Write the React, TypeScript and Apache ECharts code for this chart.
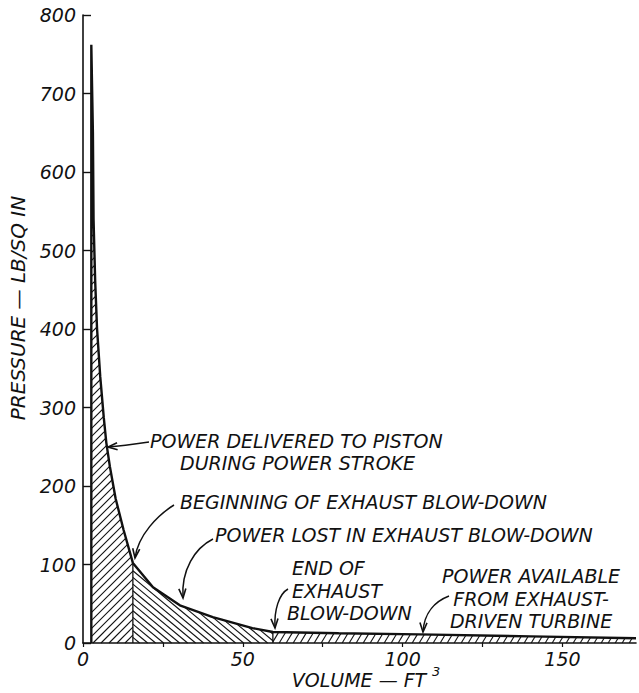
import React, { useEffect, useRef } from "react";
import * as echarts from "echarts";

// Indicator-diagram data: volume (ft^3) and pressure (lb/sq in)
const volume = [2.6, 2.6, 3.1, 3.3, 3.8, 4.4, 5.4, 6.5, 7.3, 8.4, 10.2, 12.7, 15.6, 21.9, 30.3, 40.6, 53.0, 59.4, 80, 105, 140, 173];
const pressure = [0, 762, 650, 540, 462, 400, 339, 287, 255, 225, 184, 144, 102, 71, 48, 33, 19, 14, 12.5, 11, 8.5, 6];

// Region boundaries (volume) : power stroke | exhaust blow-down | turbine
const regionBounds = [2.6, 15.6, 59.4, 173];

// Axis settings
const xMin = 0;
const xMax = 173;
const xInterval = 25;
const yMin = 0;
const yMax = 800;
const yInterval = 100;

// Texts
const yTitle = "PRESSURE — LB/SQ IN";
const xTitle = "VOLUME — FT";
const xTitleSup = "3";
const annotationTexts = [
  "POWER DELIVERED TO PISTON",
  "DURING POWER STROKE",
  "BEGINNING OF EXHAUST BLOW-DOWN",
  "POWER LOST IN EXHAUST BLOW-DOWN",
  "END OF",
  "EXHAUST",
  "BLOW-DOWN",
  "POWER AVAILABLE",
  "FROM EXHAUST-",
  "DRIVEN TURBINE",
];

// ---- layout / style (not data) ----
const INK = "#111";
const FONT = "DejaVu Sans";
const hatchK = [1, -1.2, 0.6]; // x + k*y = c families
const hatchStep = [8, 8, 7];

const annoLayout = [
  { x: 150, y: 441, align: "left" },
  { x: 180, y: 463, align: "left" },
  { x: 180, y: 502, align: "left" },
  { x: 215, y: 535, align: "left" },
  { x: 292, y: 568, align: "left" },
  { x: 292, y: 591, align: "left" },
  { x: 287, y: 613, align: "left" },
  { x: 531, y: 576, align: "center" },
  { x: 531, y: 599, align: "center" },
  { x: 531, y: 621, align: "center" },
];

const arrows = [
  { p0: [149, 442], c1: [135, 444], c2: [120, 446], p3: [108, 447] },
  { p0: [174, 505], c1: [158, 515], c2: [138, 535], p3: [135, 558] },
  { p0: [213, 539], c1: [195, 548], c2: [181, 570], p3: [183, 598] },
  { p0: [288, 589], c1: [279, 594], c2: [274, 610], p3: [275, 628] },
  { p0: [449, 596], c1: [436, 601], c2: [424, 612], p3: [423, 632] },
];

function arrowHead(tip: number[], from: number[], len = 10, ang = 0.36) {
  const a = Math.atan2(tip[1] - from[1], tip[0] - from[0]);
  const p1 = [tip[0] - len * Math.cos(a - ang), tip[1] - len * Math.sin(a - ang)];
  const p2 = [tip[0] - len * Math.cos(a + ang), tip[1] - len * Math.sin(a + ang)];
  return {
    type: "polyline",
    shape: { points: [p1, tip, p2] },
    style: { stroke: INK, lineWidth: 1.6, fill: null },
    silent: true,
  };
}

function hatchLines(pts: number[][], k: number, step: number) {
  const f = (p: number[]) => p[0] + k * p[1];
  let lo = Infinity;
  let hi = -Infinity;
  pts.forEach((p) => {
    lo = Math.min(lo, f(p));
    hi = Math.max(hi, f(p));
  });
  const out: any[] = [];
  for (let c = Math.ceil(lo / step) * step; c <= hi; c += step) {
    const hits: number[][] = [];
    for (let i = 0; i < pts.length; i++) {
      const a = pts[i];
      const b = pts[(i + 1) % pts.length];
      const fa = f(a) - c;
      const fb = f(b) - c;
      if ((fa < 0) !== (fb < 0)) {
        const t = fa / (fa - fb);
        hits.push([a[0] + t * (b[0] - a[0]), a[1] + t * (b[1] - a[1])]);
      }
    }
    hits.sort((u, v) => u[1] - v[1]);
    for (let j = 0; j + 1 < hits.length; j += 2) {
      out.push({
        type: "line",
        shape: { x1: hits[j][0], y1: hits[j][1], x2: hits[j + 1][0], y2: hits[j + 1][1] },
        style: { stroke: INK, lineWidth: 1.1 },
      });
    }
  }
  return out;
}

export default function App() {
  const ref = useRef<HTMLDivElement>(null);

  useEffect(() => {
    if (!ref.current) return;
    const chart = echarts.init(ref.current, null, { renderer: "svg" });

    const curve = volume.map((v, i) => [v, pressure[i]]);
    const regions = regionBounds.slice(0, -1).map((b, i) => [b, 0, i]);

    const textEls: any[] = annotationTexts.map((t, i) => ({
      type: "text",
      x: annoLayout[i].x,
      y: annoLayout[i].y,
      silent: true,
      style: {
        text: t,
        fill: INK,
        fontFamily: FONT,
        fontStyle: "italic",
        fontSize: 19,
        align: annoLayout[i].align,
        verticalAlign: "middle",
      },
    }));

    const arrowEls: any[] = [];
    arrows.forEach((a) => {
      arrowEls.push({
        type: "bezierCurve",
        silent: true,
        shape: {
          x1: a.p0[0], y1: a.p0[1],
          cpx1: a.c1[0], cpy1: a.c1[1],
          cpx2: a.c2[0], cpy2: a.c2[1],
          x2: a.p3[0], y2: a.p3[1],
        },
        style: { stroke: INK, lineWidth: 1.5, fill: null },
      });
      arrowEls.push(arrowHead(a.p3, a.c2));
    });

    const option: any = {
      animation: false,
      backgroundColor: "#fff",
      grid: { left: 83, right: 3, top: 15, bottom: 50, containLabel: false, outerBoundsMode: "none" },
      xAxis: {
        type: "value",
        min: xMin,
        max: xMax,
        interval: xInterval,
        axisLine: { show: true, lineStyle: { color: INK, width: 1.6 } },
        axisTick: { show: true, inside: false, length: 4, lineStyle: { color: INK, width: 1.2 } },
        splitLine: { show: false },
        axisLabel: {
          color: INK,
          fontFamily: FONT,
          fontStyle: "italic",
          fontSize: 19,
          margin: 6,
          showMaxLabel: false,
          formatter: (v: number) => (v % 50 === 0 ? String(v) : ""),
        },
      },
      yAxis: {
        type: "value",
        min: yMin,
        max: yMax,
        interval: yInterval,
        axisLine: { show: true, lineStyle: { color: INK, width: 1.6 } },
        axisTick: { show: true, inside: true, length: 8, lineStyle: { color: INK, width: 1.4 } },
        splitLine: { show: false },
        axisLabel: {
          color: INK,
          fontFamily: FONT,
          fontStyle: "italic",
          fontSize: 19,
          margin: 7,
        },
      },
      series: [
        {
          type: "custom",
          coordinateSystem: "cartesian2d",
          data: regions,
          encode: { x: 0, y: 1 },
          silent: true,
          z: 1,
          renderItem: (params: any, api: any) => {
            const r = params.dataIndex;
            const start = regionBounds[r];
            const end = regionBounds[r + 1];
            const pts: number[][] = [];
            for (let i = 0; i < volume.length; i++) {
              if (volume[i] >= start && volume[i] <= end && pressure[i] > 0) {
                pts.push(api.coord([volume[i], pressure[i]]));
              }
            }
            pts.push(api.coord([end, 0]));
            pts.push(api.coord([start, 0]));
            const children: any[] = hatchLines(pts, hatchK[r], hatchStep[r]);
            if (r > 0) {
              const idx = volume.findIndex((v, i) => v === start && pressure[i] > 0);
              const top = api.coord([start, pressure[idx]]);
              const bot = api.coord([start, 0]);
              children.push({
                type: "line",
                shape: { x1: top[0], y1: top[1], x2: bot[0], y2: bot[1] },
                style: { stroke: INK, lineWidth: 1.3 },
              });
            }
            return { type: "group", children };
          },
        },
        {
          type: "line",
          data: curve,
          showSymbol: false,
          symbol: "none",
          z: 3,
          silent: true,
          lineStyle: { color: INK, width: 2.4 },
        },
      ],
      graphic: {
        elements: [
          {
            type: "text",
            x: 18,
            y: 308,
            rotation: Math.PI / 2,
            silent: true,
            style: {
              text: yTitle,
              fill: INK,
              fontFamily: FONT,
              fontStyle: "italic",
              fontSize: 20,
              align: "center",
              verticalAlign: "middle",
            },
          },
          {
            type: "text",
            x: 359,
            y: 680,
            silent: true,
            style: {
              text: xTitle,
              fill: INK,
              fontFamily: FONT,
              fontStyle: "italic",
              fontSize: 19,
              align: "center",
              verticalAlign: "middle",
            },
          },
          {
            type: "text",
            x: 432,
            y: 671,
            silent: true,
            style: {
              text: xTitleSup,
              fill: INK,
              fontFamily: FONT,
              fontStyle: "italic",
              fontSize: 13,
              align: "left",
              verticalAlign: "middle",
            },
          },
          ...textEls,
          ...arrowEls,
        ],
      },
    };

    chart.setOption(option);
    return () => chart.dispose();
  }, []);

  return (
    <div
      ref={ref}
      style={{ position: "absolute", left: 0, top: 0, width: 639, height: 693, background: "#fff" }}
    />
  );
}
